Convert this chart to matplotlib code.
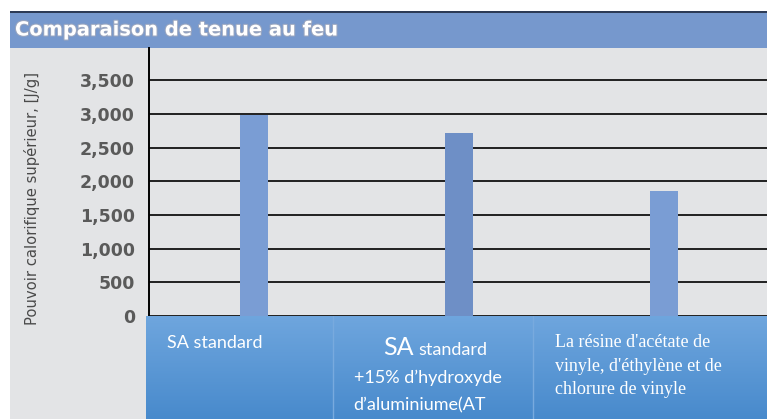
import matplotlib.pyplot as plt
import numpy as np
from matplotlib.patches import Rectangle
import matplotlib.patheffects as pe

# Data
categories = ["SA standard",
              "SA standard\n+15% d\u2019hydroxyde\nd\u2019aluminiume(AT",
              "La résine d'acétate de\nvinyle, d'éthylène et de\nchlorure de vinyle"]
values = [2990, 2725, 1860]
yticks = [0, 500, 1000, 1500, 2000, 2500, 3000, 3500]
title = "Comparaison de tenue au feu"
ylabel = "Pouvoir calorifique supérieur, [J/g]"

W, H = 767, 419
fig = plt.figure(figsize=(W / 100, H / 100), dpi=100)
fig.patch.set_facecolor('white')


def fx(x):
    return x / W


def fy(y):
    return 1 - y / H


# gray panel and title bar
fig.patches.append(Rectangle((fx(10), 0), fx(757), fy(12), transform=fig.transFigure,
                             facecolor='#e3e4e6', edgecolor='none', zorder=-3))
fig.patches.append(Rectangle((fx(10), fy(48)), fx(757), 36 / H, transform=fig.transFigure,
                             facecolor='#7698cd', edgecolor='none', zorder=-2))
fig.patches.append(Rectangle((fx(10), fy(13)), fx(757), 1.5 / H, transform=fig.transFigure,
                             facecolor='#2c3a55', edgecolor='none', zorder=-1))
fig.text(fx(15), fy(30), title, color='white', fontsize=14, fontweight='bold',
         family='DejaVu Sans', va='center', ha='left',
         path_effects=[pe.withStroke(linewidth=1.5, foreground='#9aa6bf')])

# main axes
ax = fig.add_axes([fx(149), fy(316), fx(767 - 149), (316 - 48) / H])
ax.set_zorder(2)
ax.set_facecolor('none')
x = np.arange(len(values))
ax.bar(x, values, width=0.137, color=['#7a9dd4', '#6e8fc6', '#7a9dd4'], zorder=3)
ax.set_xlim(-0.512, 2.502)
ax.set_ylim(0, 3980)
ax.set_yticks(yticks)
ax.set_yticklabels([f"{v:,}" for v in yticks], color='#5a5a5a', fontsize=12.5,
                   fontweight='bold', family='DejaVu Sans')
ax.tick_params(axis='y', length=0, pad=10)
ax.set_xticks([])
ax.yaxis.grid(True, color='#111111', lw=1.3)
ax.set_axisbelow(True)
for s in ['top', 'right', 'bottom']:
    ax.spines[s].set_visible(False)
ax.spines['left'].set_color('black')
ax.spines['left'].set_linewidth(1.4)

fig.text(fx(32), fy(198), ylabel, rotation=90, color='#4a4a4a', fontsize=10.6,
         family='DejaVu Sans', ha='center', va='center')

# category boxes with gradient
bax = fig.add_axes([fx(146), 0, fx(767 - 146), fy(316)])
bax.set_zorder(3)
grad = np.linspace(0, 1, 100).reshape(-1, 1)
c_top = np.array([111, 166, 222]) / 255
c_bot = np.array([72, 138, 204]) / 255
img = c_top + (c_bot - c_top) * grad[:, :, None]
bax.imshow(img, aspect='auto', extent=[0, 1, 0, 1], origin='upper')
bax.set_xlim(0, 1)
bax.set_ylim(0, 1)
bax.axis('off')
for xs in [333, 533]:
    bx = (xs - 146) / (767 - 146)
    bax.plot([bx, bx], [0, 1], color='#78aade', lw=1.0)

# labels in boxes
fig.text(fx(167), fy(348), categories[0], color='white', fontsize=13, family='Lato',
         ha='left', va='baseline', zorder=5)
l2 = categories[1].split("\n")
fig.text(fx(383), fy(355), l2[0][:2], color='white', fontsize=18, family='Lato',
         ha='left', va='baseline', zorder=5)
fig.text(fx(418), fy(355), l2[0][3:], color='white', fontsize=13, family='Lato',
         ha='left', va='baseline', zorder=5)
fig.text(fx(354), fy(383), l2[1], color='white', fontsize=13, family='Lato',
         ha='left', va='baseline', zorder=5)
fig.text(fx(353), fy(410), l2[2], color='white', fontsize=13, family='Lato',
         ha='left', va='baseline', zorder=5)
for i, line in enumerate(categories[2].split("\n")):
    fig.text(fx(555), fy(347 + i * 23.5), line, color='white', fontsize=13,
             family='Liberation Serif', ha='left', va='baseline', zorder=5)

fig.savefig('out.png', dpi=100)
